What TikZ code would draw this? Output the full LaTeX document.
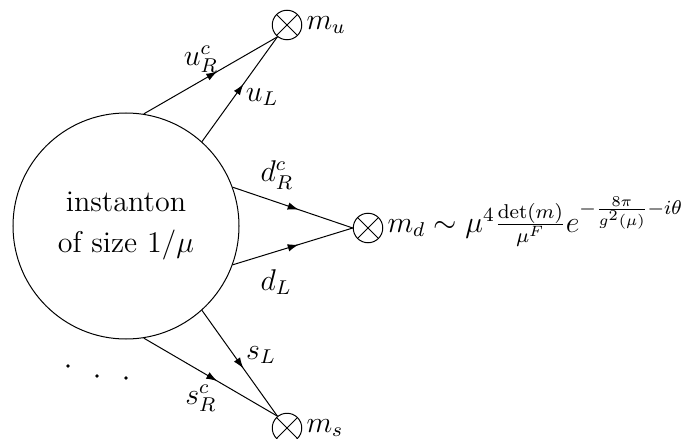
\documentclass[12pt,tikz,border=0pt]{standalone}
\usetikzlibrary{decorations.markings, arrows.meta}
\begin{document}
\begin{tikzpicture}[x=0.40pt, y=-0.40pt,
  fermion/.style={postaction={decorate}, decoration={markings, mark=at position 0.55 with {\arrow{Latex[length=4.4pt,width=3pt]}}}},
  otimes/.style={circle, draw, minimum size=11.8pt, inner sep=0pt,
    path picture={\draw (path picture bounding box.north west) -- (path picture bounding box.south east)
      (path picture bounding box.north east) -- (path picture bounding box.south west);}},
  lbl/.style={inner sep=1pt}]
\useasboundingbox (0,0) rectangle (692,439);

\node[circle, draw, minimum size=90.4pt, inner sep=0pt, align=center] (inst) at (126,226)
  {instanton\\[2pt]of size $1/\mu$};

\node[otimes] (mu) at (287,25) {};
\node[otimes] (md) at (368,228) {};
\node[otimes] (ms) at (287,428) {};

\draw[fermion] (inst.81) -- (mu.231);
\draw[fermion] (inst.48) -- (mu.231);
\draw[fermion] (inst.20) -- (md.west);
\draw[fermion] (inst.-20) -- (md.west);
\draw[fermion] (inst.-48) -- (ms.129);
\draw[fermion] (inst.-81) -- (ms.129);

\node[lbl] (luR) at (201,59) {$u_R^c$};
\node[lbl] (luL) at (262,97) {$u_L$};
\node[lbl] (ldR) at (277,175) {$d_R^c$};
\node[lbl] (ldL) at (276,282) {$d_L$};
\node[lbl] (lsL) at (261,355) {$s_L$};
\node[lbl] (lsR) at (201,398) {$s_R^c$};

\node[anchor=west, inner sep=1.5pt] (lmu) at (mu.east) {$m_u$};
\node[anchor=west, inner sep=1.5pt] (lms) at (ms.east) {$m_s$};
\node[anchor=base west, inner sep=1.5pt] (lmd) at ([yshift=-1.6pt]md.east)
  {$m_d \sim \mu^4\frac{\det(m)}{\mu^F}e^{-\frac{8\pi}{g^2(\mu)}-i\theta}$};

\fill (68,366) circle (0.75pt);
\fill (97,376) circle (0.75pt);
\fill (126,378) circle (0.75pt);
\end{tikzpicture}
\end{document}
